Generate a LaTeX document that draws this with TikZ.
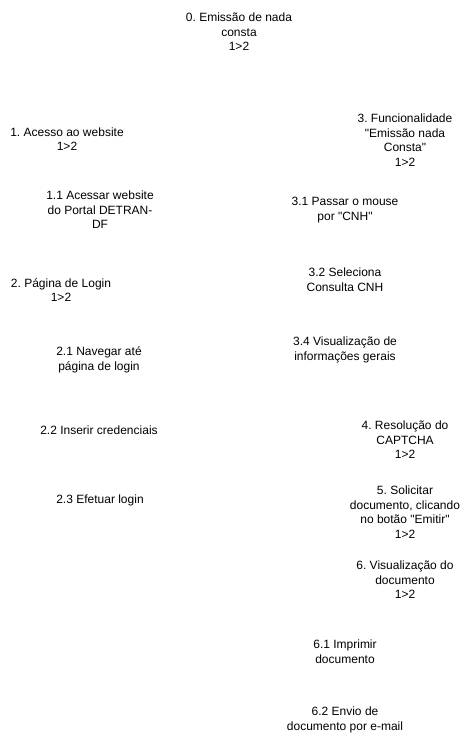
\documentclass[tikz,border=0pt]{standalone}
\usepackage{fontspec}
\setmainfont{Liberation Sans}[Ligatures=TeXOff]
\frenchspacing
\usetikzlibrary{positioning}

\begin{document}
\begin{tikzpicture}[
    x=1pt, y=-1pt,
    step label/.style={align=center, inner sep=0pt, font=\fontsize{12}{14.6}\selectfont},
]

% Frame
\useasboundingbox (0,0) rectangle (466,751);

% Root
\node[step label] (root) at (239,32) {0. Emissão de nada\\consta\\1>2};

% Left branch: access and login
\node[step label] (access) at (67,139) {1. Acesso ao website\\1>2};
\node[step label] (portal) at (100,210) {1.1 Acessar website\\do Portal DETRAN-\\DF};
\node[step label] (login) at (61,290) {2. Página de Login\\1>2};
\node[step label] (gologin) at (99,360) {2.1 Navegar até\\página de login};
\node[step label] (creds) at (99,430) {2.2 Inserir credenciais};
\node[step label] (dologin) at (100,500) {2.3 Efetuar login};

% Right branch: feature
\node[step label] (feature) at (405,140) {3. Funcionalidade\\"Emissão nada\\Consta"\\1>2};
\node[step label] (hover) at (345,210) {3.1 Passar o mouse\\por "CNH"};
\node[step label] (select) at (345,280) {3.2 Seleciona\\Consulta CNH};
\node[step label] (info) at (345,350) {3.4 Visualização de\\informações gerais};

% Right branch: captcha and document
\node[step label] (captcha) at (405,440) {4. Resolução do\\CAPTCHA\\1>2};
\node[step label] (request) at (405,512) {5. Solicitar\\documento, clicando\\no botão "Emitir"\\1>2};
\node[step label] (view) at (405,580) {6. Visualização do\\documento\\1>2};
\node[step label] (print) at (345,652) {6.1 Imprimir\\documento};
\node[step label] (email) at (345,720) {6.2 Envio de\\documento por e-mail};

\end{tikzpicture}
\end{document}
